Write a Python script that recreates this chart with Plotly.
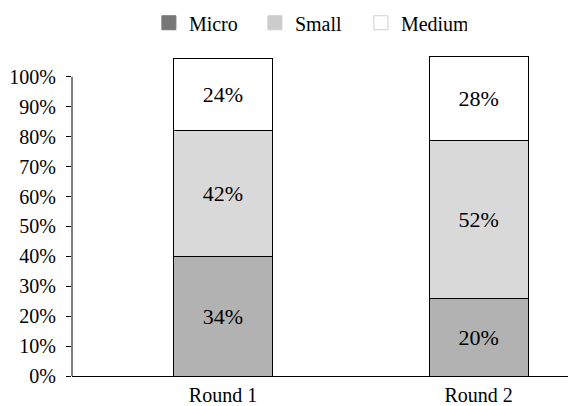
import plotly.graph_objects as go

categories = ["Round 1", "Round 2"]
series_names = ["Micro", "Small", "Medium"]
# bar heights as drawn (percent units)
micro_heights = [40, 26]
small_heights = [42, 52.7]
medium_heights = [24, 28]
# labels shown inside the bars
micro_labels = ["34%", "20%"]
small_labels = ["42%", "52%"]
medium_labels = ["24%", "28%"]
y_ticks = [0, 10, 20, 30, 40, 50, 60, 70, 80, 90, 100]

bar_colors = ["#b2b2b2", "#d9d9d9", "#ffffff"]
legend_colors = ["#777777", "#cccccc", "#ffffff"]
legend_borders = ["#777777", "#cccccc", "#d0d0d0"]

FONT = "Liberation Serif"
fig = go.Figure()
for heights, labels, color in zip([micro_heights, small_heights, medium_heights],
                                  [micro_labels, small_labels, medium_labels], bar_colors):
    fig.add_trace(go.Bar(
        x=categories, y=heights, text=labels, textposition="inside",
        insidetextanchor="middle", textangle=0,
        textfont=dict(family=FONT, size=22, color="black"),
        marker=dict(color=color, line=dict(color="black", width=1)),
        width=0.387, showlegend=False, hoverinfo="skip"))

for name, c, bc in zip(series_names, legend_colors, legend_borders):
    fig.add_trace(go.Scatter(
        x=[None], y=[None], mode="markers", name=name,
        marker=dict(symbol="square", size=14, color=c, line=dict(color=bc, width=1))))

fig.add_shape(type="line", xref="paper", yref="y", x0=0, x1=0, y0=0, y1=100,
              line=dict(color="black", width=1))

fig.update_layout(
    barmode="stack", width=569, height=406,
    margin=dict(l=72, r=1, t=47, b=30, autoexpand=False),
    plot_bgcolor="white", paper_bgcolor="white",
    font=dict(family=FONT, size=20, color="black"),
    showlegend=True,
    legend=dict(orientation="h", x=0.155, xanchor="left", y=0.992, yanchor="top",
                yref="container", font=dict(family=FONT, size=20),
                traceorder="normal", itemwidth=30, entrywidth=61),
    xaxis=dict(range=[-0.591, 1.35], showline=True, linecolor="black", linewidth=1,
               ticks="", showgrid=False, zeroline=False, tickfont=dict(size=20),
               automargin=False, ticklabelstandoff=1),
    yaxis=dict(range=[0, 110], tickvals=y_ticks, ticktext=[f"{v}%" for v in y_ticks],
               showline=False, ticks="outside", ticklen=5, tickcolor="black",
               showgrid=False, zeroline=False, tickfont=dict(size=20),
               ticklabelstandoff=6, automargin=False),
)
fig.write_html("out.html", config={"displayModeBar": False},
               post_script="document.body.style.margin='0';")
